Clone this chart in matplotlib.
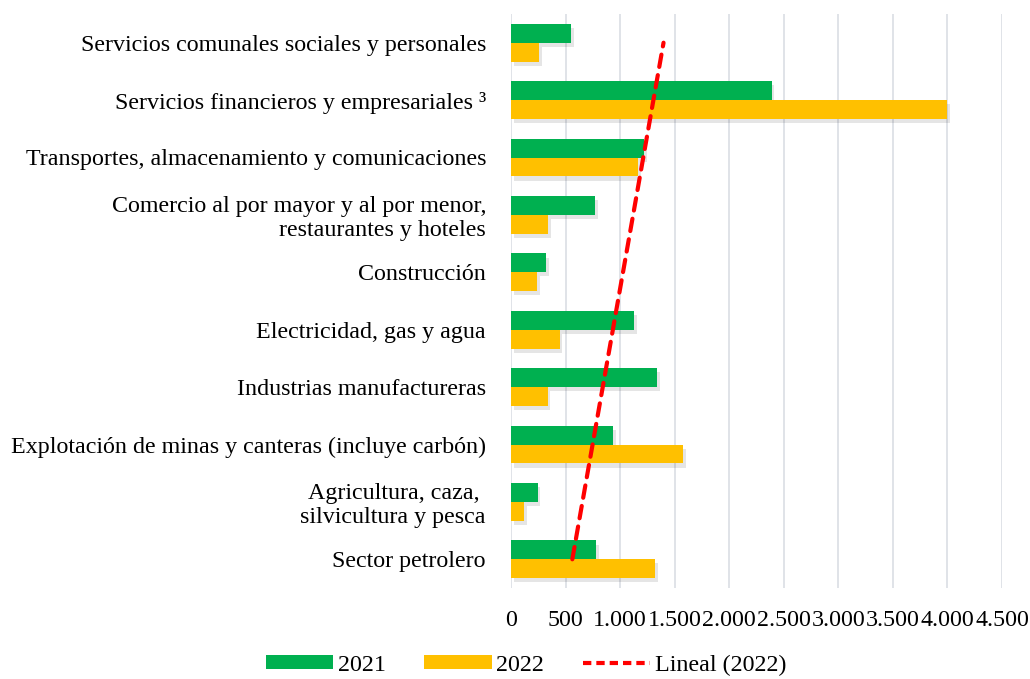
import numpy as np
import matplotlib
matplotlib.use("Agg")
import matplotlib.pyplot as plt
from matplotlib import patheffects
from matplotlib.lines import Line2D
from matplotlib.patches import Patch

plt.rcParams['font.family'] = ['Liberation Serif', 'DejaVu Serif']

# Sectors listed bottom to top
categories = [
    "Sector petrolero",
    "Agricultura, caza, \nsilvicultura y pesca",
    "Explotación de minas y canteras (incluye carbón)",
    "Industrias manufactureras",
    "Electricidad, gas y agua",
    "Construcción",
    "Comercio al por mayor y al por menor,\nrestaurantes y hoteles",
    "Transportes, almacenamiento y comunicaciones",
    "Servicios financieros y empresariales ³",
    "Servicios comunales sociales y personales",
]
values_2021 = [779, 243, 933, 1340, 1129, 319, 770, 1221, 2389, 548]
values_2022 = [1322, 120, 1580, 335, 445, 236, 338, 1163, 4000, 261]
xticks = [0, 500, 1000, 1500, 2000, 2500, 3000, 3500, 4000, 4500]

green = "#00B050"
orange = "#FFC000"
red = "#FF0000"
fs = 17.3

fig = plt.figure(figsize=(10.3, 6.79), dpi=100)
ax = fig.add_axes([511 / 1030, 1 - 588 / 679, (1002 - 511) / 1030, (588 - 14) / 679])

pos = np.arange(1, len(categories) + 1)
h = 0.33
shadow = [patheffects.SimplePatchShadow(offset=(2, -3), shadow_rgbFace="#000000", alpha=0.10),
          patheffects.Normal()]
b1 = ax.barh(pos + h / 2, values_2021, height=h, color=green, zorder=3)
b2 = ax.barh(pos - h / 2, values_2022, height=h, color=orange, zorder=3)
for bar in list(b1) + list(b2):
    bar.set_path_effects(shadow)

# Linear trend of the 2022 series over category index
slope, intercept = np.polyfit(pos, values_2022, 1)
trend = slope * pos + intercept
ax.plot(trend, pos, color=red, lw=3, linestyle=(0, (3, 2.0)), zorder=4,
        dash_capstyle='round')

ax.set_xlim(0, 4500)
ax.set_ylim(0.5, len(categories) + 0.5)
ax.set_xticks(xticks)
ax.set_xticklabels([f"{v:,}".replace(",", ".") for v in xticks])
ax.set_yticks(pos)
ax.set_yticklabels(categories, linespacing=1.15)
ax.tick_params(axis='both', length=0, labelsize=fs)
ax.tick_params(axis='y', pad=18)
ax.tick_params(axis='x', pad=16)
ax.grid(axis='x', color="#DDE0E6", lw=1.3, zorder=0)
for s in ax.spines.values():
    s.set_visible(False)

handles = [
    Patch(facecolor=green, edgecolor='none', label="2021"),
    Patch(facecolor=orange, edgecolor='none', label="2022"),
    Line2D([0], [0], color=red, lw=3, linestyle=(0, (2.0, 1.2)), label="Lineal (2022)"),
]
fig.legend(handles=handles, loc='center', bbox_to_anchor=(526 / 1030, 1 - 665 / 679), ncol=3,
           frameon=False, fontsize=fs, handlelength=2.8, handleheight=0.5,
           columnspacing=1.6, handletextpad=0.2)

fig.savefig("out.png", dpi=100)
